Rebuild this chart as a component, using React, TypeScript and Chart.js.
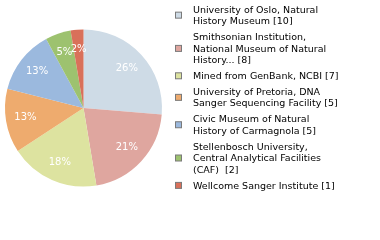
import React, { useEffect, useRef } from "react";
import { Chart, registerables } from "chart.js";

Chart.register(...registerables);

const names: string[] = [
  "University of Oslo, Natural\nHistory Museum",
  "Smithsonian Institution,\nNational Museum of Natural\nHistory...",
  "Mined from GenBank, NCBI",
  "University of Pretoria, DNA\nSanger Sequencing Facility",
  "Civic Museum of Natural\nHistory of Carmagnola",
  "Stellenbosch University,\nCentral Analytical Facilities\n(CAF) ",
  "Wellcome Sanger Institute",
];
const counts: number[] = [10, 8, 7, 5, 5, 2, 1];
const colors: string[] = [
  "#cedbe6",
  "#dfa69f",
  "#dde3a0",
  "#eeab6e",
  "#9bb9de",
  "#9dc26f",
  "#d9705a",
];

const FONT = '"DejaVu Sans", sans-serif';

const legendPlugin = {
  id: "sideLegend",
  afterDraw(chart: any) {
    const ctx = chart.ctx;
    const boxX = 175.5;
    const textX = 193;
    const lineH = 11.7;
    const gap = 4;
    let baseline = 12.5;
    ctx.save();
    ctx.font = "9.5px " + FONT;
    ctx.textBaseline = "alphabetic";
    ctx.textAlign = "left";
    names.forEach((name, i) => {
      const lines = (name + " [" + counts[i] + "]").split("\n");
      const first = baseline;
      lines.forEach((ln) => {
        ctx.fillStyle = "#000";
        ctx.fillText(ln, textX, baseline);
        baseline += lineH;
      });
      const last = baseline - lineH;
      const cy = (first + last) / 2 - 3.2;
      ctx.fillStyle = colors[i];
      ctx.fillRect(boxX, cy - 3, 6, 6);
      ctx.strokeStyle = "#7a7a7a";
      ctx.lineWidth = 1;
      ctx.strokeRect(boxX, cy - 3, 6, 6);
      baseline += gap;
    });
    ctx.restore();
  },
};

const pctPlugin = {
  id: "pctLabels",
  afterDatasetsDraw(chart: any) {
    const ctx = chart.ctx;
    const meta = chart.getDatasetMeta(0);
    const total = counts.reduce((a, b) => a + b, 0);
    ctx.save();
    ctx.font = "10px " + FONT;
    ctx.fillStyle = "#ffffff";
    ctx.textAlign = "center";
    ctx.textBaseline = "middle";
    meta.data.forEach((arc: any, i: number) => {
      const p = arc.getProps(["x", "y", "startAngle", "endAngle", "outerRadius"], true);
      const mid = (p.startAngle + p.endAngle) / 2;
      const r = p.outerRadius * 0.75;
      const pct = Math.floor((counts[i] / total) * 100);
      ctx.fillText(pct + "%", p.x + Math.cos(mid) * r, p.y + Math.sin(mid) * r);
    });
    ctx.restore();
  },
};

export default function App() {
  const ref = useRef<HTMLCanvasElement | null>(null);
  useEffect(() => {
    document.body.style.margin = "0";
    const chart = new Chart(ref.current as HTMLCanvasElement, {
      type: "pie",
      data: {
        labels: names.map((n) => n.replace(/\n/g, " ")),
        datasets: [
          {
            data: counts,
            backgroundColor: colors,
            borderWidth: 0,
            hoverOffset: 0,
          },
        ],
      },
      options: {
        responsive: false,
        animation: false,
        layout: { padding: { left: 5, top: 29.5, right: 218, bottom: 53.5 } },
        plugins: {
          legend: { display: false },
          tooltip: { enabled: false },
        },
      },
      plugins: [pctPlugin, legendPlugin],
    });
    return () => chart.destroy();
  }, []);
  return (
    <div style={{ width: 380, height: 240, background: "#fff" }}>
      <canvas ref={ref} width={380} height={240} />
    </div>
  );
}
